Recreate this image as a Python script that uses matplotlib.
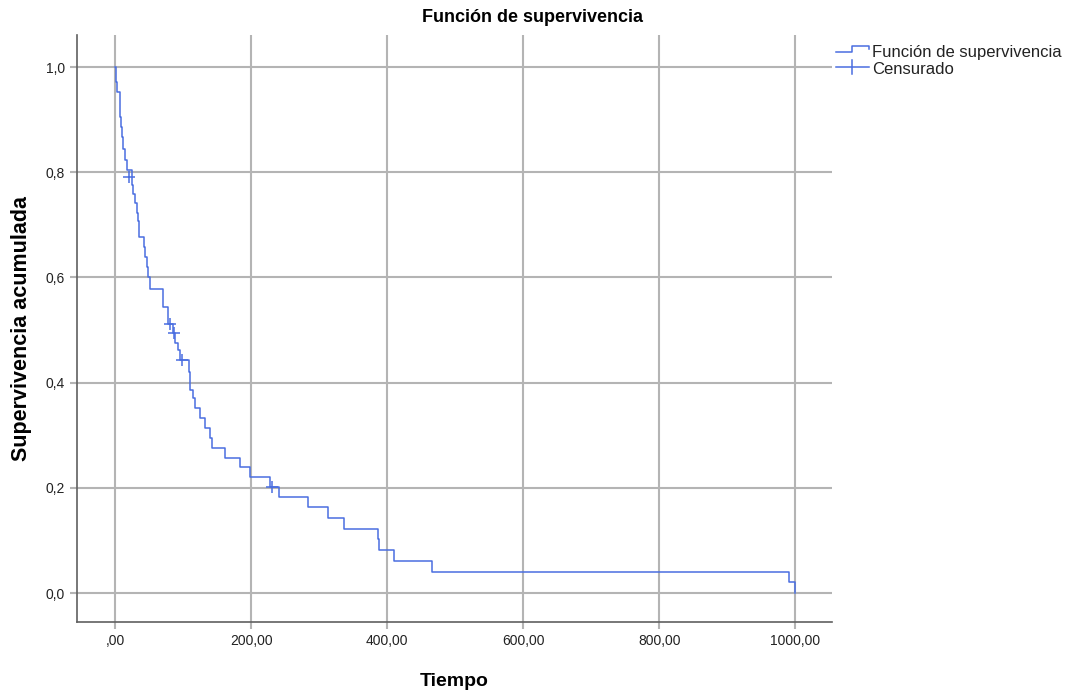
import matplotlib.pyplot as plt
from matplotlib.lines import Line2D

tiempos = [0, 1, 3, 7, 7.5, 8, 10, 12, 15, 17, 25, 27, 30, 32, 34, 35,
           42, 44, 47, 49, 51, 71, 78, 85, 88, 92, 95, 109, 110, 115, 118,
           125, 132, 140, 143, 162, 184, 199, 228, 241, 283, 313, 336, 386,
           388, 410, 466, 991, 1000]
supervivencia = [1.0, 0.971, 0.952, 0.933, 0.905, 0.886, 0.867, 0.845, 0.823,
                 0.804, 0.776, 0.759, 0.741, 0.722, 0.707, 0.677, 0.658, 0.639,
                 0.619, 0.600, 0.578, 0.544, 0.511, 0.494, 0.475, 0.462, 0.443,
                 0.42, 0.386, 0.37, 0.352, 0.333, 0.314, 0.295, 0.276, 0.257,
                 0.239, 0.220, 0.202, 0.183, 0.164, 0.142, 0.122, 0.103, 0.082,
                 0.061, 0.041, 0.021, 0.0]
cens_t = [21, 81, 86, 98, 231]
cens_s = [0.791, 0.511, 0.494, 0.443, 0.202]

xticks = [0, 200, 400, 600, 800, 1000]
xlabels = [",00", "200,00", "400,00", "600,00", "800,00", "1000,00"]
yticks = [0.0, 0.2, 0.4, 0.6, 0.8, 1.0]
ylabels = ["0,0", "0,2", "0,4", "0,6", "0,8", "1,0"]

azul = "#4a6ee0"
gris = "#b4b4b4"

plt.rcParams['font.family'] = ['Liberation Sans', 'DejaVu Sans']

fig = plt.figure(figsize=(10.65, 6.94), dpi=100)
ax = fig.add_axes([77 / 1065, 72 / 694, 755 / 1065, 587 / 694])

ax.step(tiempos, supervivencia, where='post', color=azul, lw=1.1)
ax.plot(cens_t, cens_s, ls='none', marker='+', ms=8, mew=1.1, color=azul)

ax.set_xlim(-56, 1054)
ax.set_ylim(-0.055, 1.061)
ax.set_xticks(xticks)
ax.set_xticklabels(xlabels)
ax.set_yticks(yticks)
ax.set_yticklabels(ylabels)
ax.grid(True, color=gris, lw=1.5)
ax.set_axisbelow(True)
for s in ['top', 'right']:
    ax.spines[s].set_visible(False)
for s in ['left', 'bottom']:
    ax.spines[s].set_color('#606060')
    ax.spines[s].set_linewidth(1.2)
ax.tick_params(colors=gris, labelcolor='#222222', labelsize=10, length=5, width=1.5)

ax.set_xlabel("Tiempo", fontsize=14, fontweight='bold', labelpad=18)
ax.set_ylabel("Supervivencia acumulada", fontsize=15.5, fontweight='bold', labelpad=10)
fig.text(0.5, 1 - 18 / 694, "Función de supervivencia", ha='center', va='center',
         fontsize=13, fontweight='bold')

# Leyenda dibujada a mano (fuera de los ejes)
W, H = 1065, 694
def fx(px):
    return px / W
def fy(py):
    return 1 - py / H

fig.add_artist(Line2D([fx(836), fx(852), fx(852), fx(869), fx(869)],
                      [fy(52), fy(52), fy(46), fy(46), fy(49)], color=azul, lw=1.1))
fig.add_artist(Line2D([fx(836), fx(869)], [fy(67), fy(67)], color=azul, lw=1.1))
fig.add_artist(Line2D([fx(852), fx(852)], [fy(60), fy(74)], color=azul, lw=1.1))
fig.text(fx(872), fy(53), "Función de supervivencia", fontsize=12, va='center', color='#222222')
fig.text(fx(872), fy(70), "Censurado", fontsize=12, va='center', color='#222222')

fig.savefig("out.png", dpi=100)
